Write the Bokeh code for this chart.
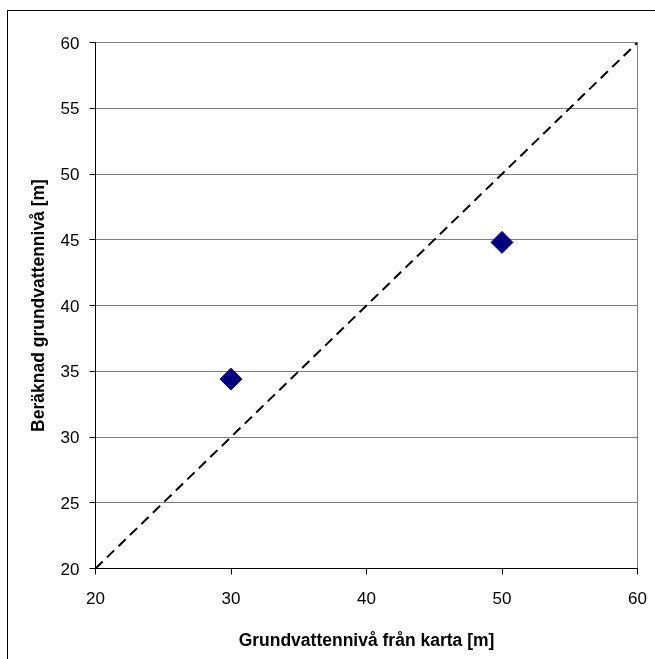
from bokeh.plotting import figure
from bokeh.embed import file_html
from bokeh.resources import INLINE
from bokeh.models import FixedTicker, Range1d
import math

# Data
map_level = [30, 50]          # Grundvattennivå från karta [m]
calc_level = [34.4, 44.8]     # Beräknad grundvattennivå [m]
ref_x = [20, 60]
ref_y = [20, 60]
ticks = [20, 25, 30, 35, 40, 45, 50, 55, 60]
xticks = [20, 30, 40, 50, 60]

FONT = "Liberation Sans"

p = figure(width=660, height=660, output_backend="svg", toolbar_location=None,
           x_range=Range1d(20, 60), y_range=Range1d(20, 60),
           min_border_left=87, min_border_right=31, min_border_top=31, min_border_bottom=103)
p.styles = {"border-left": "1px solid black", "border-top": "1px solid black",
            "position": "fixed", "top": "10px", "left": "7px"}

p.background_fill_color = "white"
p.border_fill_color = "white"
p.outline_line_color = "#808080"
p.outline_line_width = 1

p.xgrid.grid_line_color = None
p.ygrid.grid_line_color = "#808080"
p.ygrid.grid_line_width = 1

for ax in (p.xaxis[0], p.yaxis[0]):
    ax.axis_line_color = "black"
    ax.major_tick_line_color = "black"
    ax.major_tick_out = 6
    ax.major_tick_in = 0
    ax.minor_tick_line_color = None
    ax.major_label_text_font = FONT
    ax.major_label_text_font_size = "17px"
    ax.major_label_text_color = "black"
    ax.axis_label_text_font = FONT
    ax.axis_label_text_font_size = "17.5px"
    ax.axis_label_text_font_style = "bold"
    ax.axis_label_text_color = "black"

p.xaxis.ticker = FixedTicker(ticks=xticks)
p.yaxis.ticker = FixedTicker(ticks=ticks)
p.xaxis.axis_label = "Grundvattennivå från karta [m]"
p.yaxis.axis_label = "Beräknad grundvattennivå [m]"
p.xaxis.major_label_standoff = 17
p.yaxis.major_label_standoff = 10
p.xaxis.axis_label_standoff = 23
p.yaxis.axis_label_standoff = 10

p.line(ref_x, ref_y, line_color="black", line_width=2, line_dash="10 6")
p.scatter(map_level, calc_level, marker="square", size=15.5, angle=math.pi / 4,
          fill_color="#000080", line_color="#000080")

open("out.html", "w").write(file_html(p, INLINE))
